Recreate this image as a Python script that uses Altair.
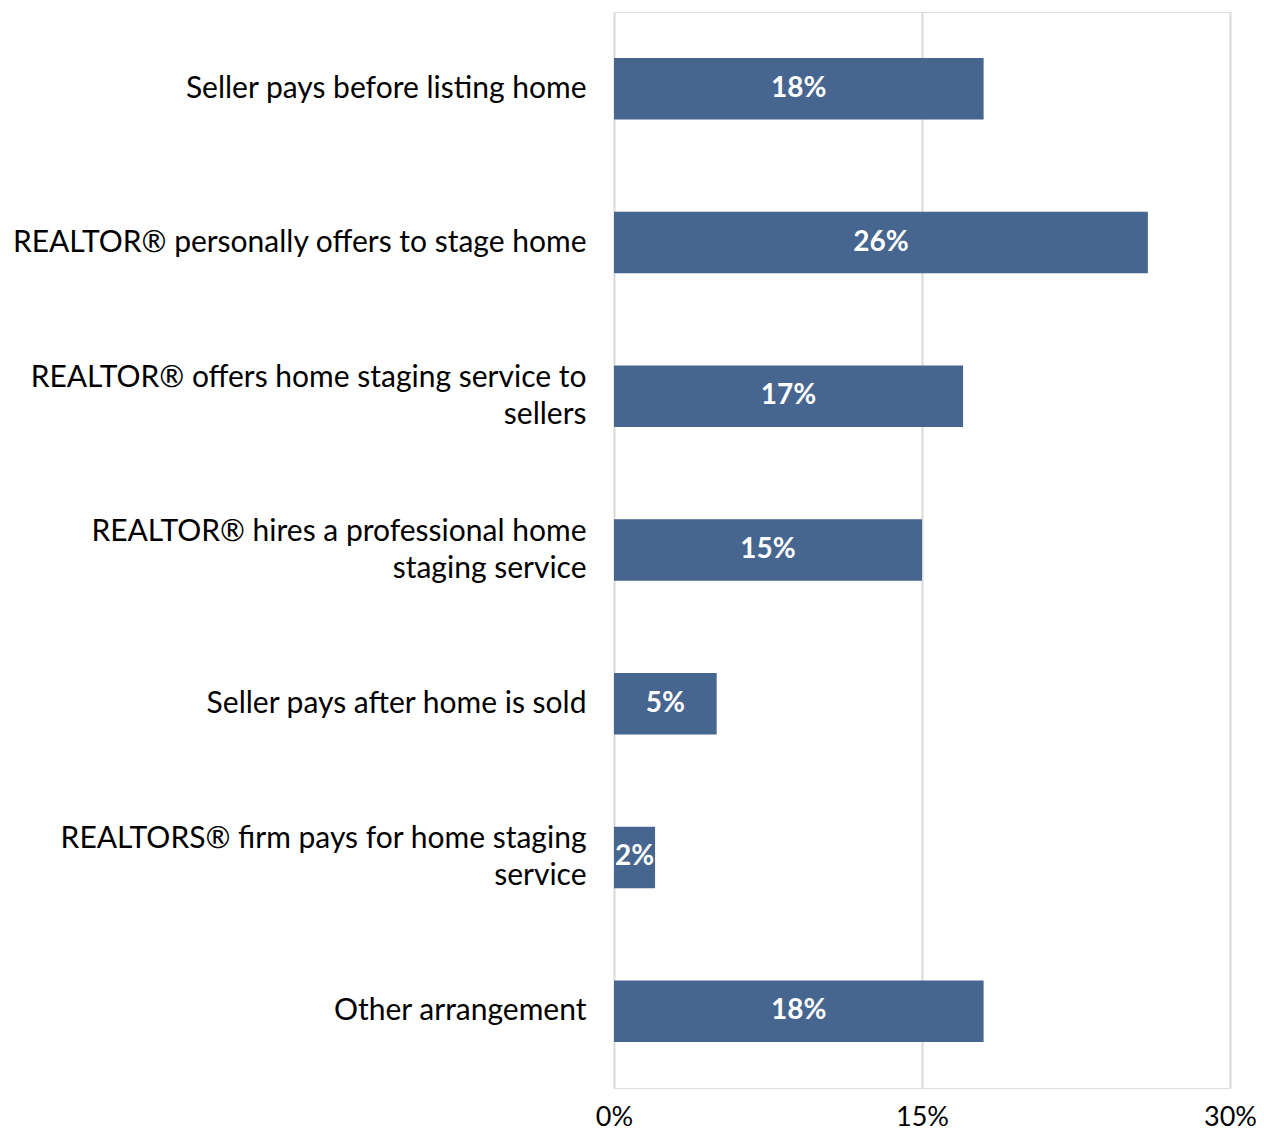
import altair as alt
import pandas as pd

categories = [
    "Seller pays before listing home",
    "REALTOR® personally offers to stage home",
    "REALTOR® offers home staging service to\nsellers",
    "REALTOR® hires a professional home\nstaging service",
    "Seller pays after home is sold",
    "REALTORS® firm pays for home staging\nservice",
    "Other arrangement",
]
values = [0.18, 0.26, 0.17, 0.15, 0.05, 0.02, 0.18]
x_ticks = [0.0, 0.15, 0.30]

df = pd.DataFrame({"category": categories, "value": values})

FONT = "Lato"
BAR = "#46658f"

y_enc = alt.Y(
    "category:N",
    sort=categories,
    title=None,
    scale=alt.Scale(paddingInner=0.6, paddingOuter=0.3),
    axis=alt.Axis(
        domain=False,
        ticks=False,
        labelPadding=28,
        labelFont=FONT,
        labelFontSize=30,
        labelColor="#000000",
        labelLineHeight=37,
        labelLimit=700,
        labelExpr="split(datum.label, '\\n')",
        labelOffset={
            "condition": {"test": "indexof(datum.value, '\\n') >= 0", "value": -18},
            "value": 0,
        },
    ),
)

x_enc = alt.X(
    "value:Q",
    title=None,
    scale=alt.Scale(domain=[0, 0.30], nice=False),
    axis=alt.Axis(
        values=x_ticks,
        format=".0%",
        domain=False,
        ticks=False,
        grid=True,
        gridColor="#d9d9d9",
        gridWidth=2,
        labelFont=FONT,
        labelFontSize=27,
        labelColor="#000000",
        labelPadding=16,
        labelFlush=False,
    ),
)

bars = alt.Chart(df).mark_bar(color=BAR).encode(x=x_enc, y=y_enc)

labels = (
    alt.Chart(df)
    .transform_calculate(mid="datum.value / 2")
    .mark_text(font=FONT, fontSize=28, fontWeight="bold", color="white",
               align="center", baseline="middle")
    .encode(
        x=alt.X("mid:Q"),
        y=alt.Y("category:N", sort=categories),
        text=alt.Text("value:Q", format=".0%"),
    )
)

chart = (
    alt.layer(bars, labels)
    .properties(
        width=616,
        height=1076,
        autosize=alt.AutoSizeParams(type="none"),
        padding={"left": 606, "top": 4, "right": 26, "bottom": 44},
    )
    .configure_view(stroke=None)
    .configure(background="white")
)

chart.save("out.html", embed_options={"renderer": "svg", "actions": False})
